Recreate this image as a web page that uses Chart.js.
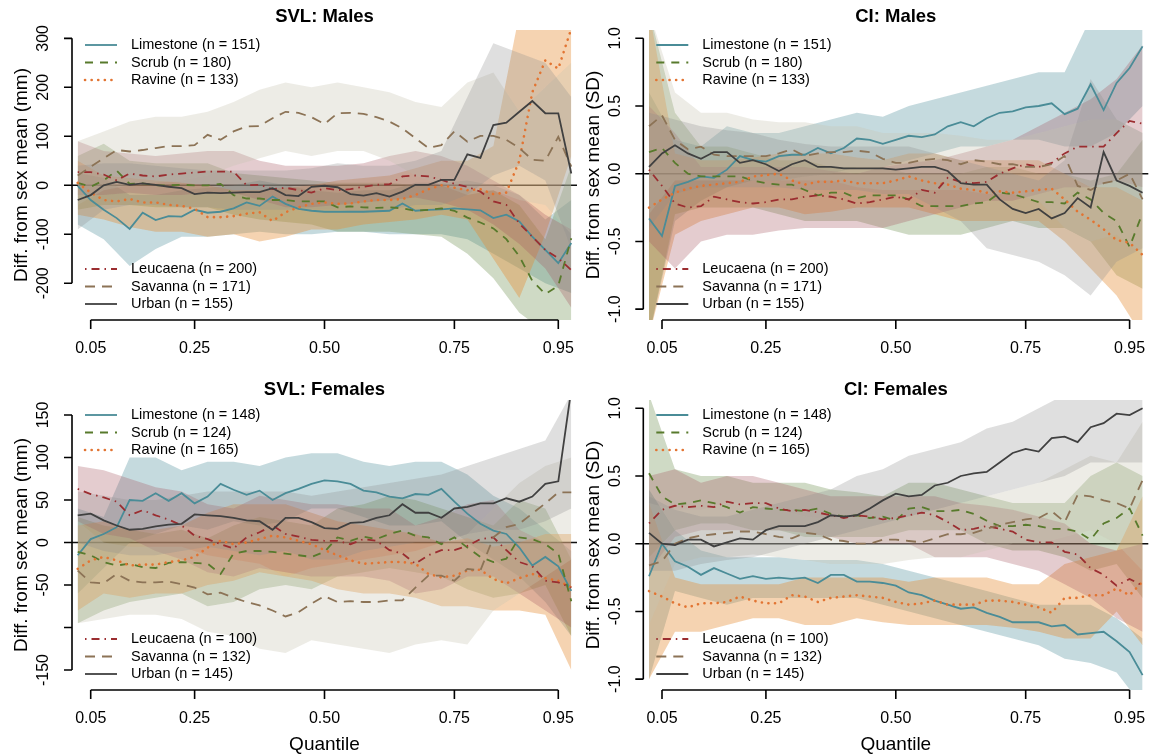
<!DOCTYPE html>
<html>
<head>
<meta charset="utf-8">
<script src="https://cdn.jsdelivr.net/npm/chart.js@4.4.1/dist/chart.umd.min.js"></script>
<style>
  body { margin: 0; background: #fff; }
  canvas { position: absolute; }
</style>
</head>
<body>
<canvas id="svlMales" width="580" height="375" style="left:0;top:0"></canvas>
<canvas id="ciMales" width="580" height="375" style="left:580px;top:0"></canvas>
<canvas id="svlFemales" width="580" height="380" style="left:0;top:375px"></canvas>
<canvas id="ciFemales" width="580" height="380" style="left:580px;top:375px"></canvas>
<script>
// quantiles of the mean lines and of the confidence bands
const quantiles = [0.025, 0.05, 0.075, 0.1, 0.125, 0.15, 0.175, 0.2, 0.225, 0.25, 0.275, 0.3, 0.325,
  0.35, 0.375, 0.4, 0.425, 0.45, 0.475, 0.5, 0.525, 0.55, 0.575, 0.6, 0.625, 0.65, 0.675, 0.7,
  0.725, 0.75, 0.775, 0.8, 0.825, 0.85, 0.875, 0.9, 0.925, 0.95, 0.975];
const bandQuantiles = [0.025, 0.075, 0.125, 0.175, 0.225, 0.275, 0.325, 0.375, 0.425, 0.475,
  0.525, 0.575, 0.625, 0.675, 0.725, 0.775, 0.825, 0.875, 0.925, 0.975];

const sites = ['Limestone', 'Scrub', 'Ravine', 'Leucaena', 'Savanna', 'Urban'];
const nMales = [151, 180, 133, 200, 171, 155];
const nFemales = [148, 124, 165, 100, 132, 145];

const xTicks = [0.05, 0.25, 0.5, 0.75, 0.95];
const xTickLabels = ['0.05', '0.25', '0.50', '0.75', '0.95'];

// rows: Limestone, Scrub, Ravine, Leucaena, Savanna, Urban
const svlMalesMean = [
  [-1, -30, -50, -67, -89, -56, -71, -63, -64, -50, -56, -54, -47, -35, -42, -23, -38, -48, -52, -54, -54, -54, -54, -53, -52, -37, -52, -50, -49, -47, -49, -51, -67, -60, -74, -105, -132, -159, -118],
  [5, -3, 10, 30, 3, 4, 0, 0, 1, 0, 0, 3, -20, -27, -27, -30, -30, -33, -33, -33, -45, -43, -45, -46, -45, -47, -52, -50, -47, -52, -66, -76, -88, -110, -145, -195, -222, -205, -108],
  [5, -15, -30, -33, -28, -35, -35, -40, -42, -48, -65, -65, -63, -58, -55, -73, -55, -45, -38, -35, -38, -37, -33, -30, -30, -28, -20, -8, 0, -5, -10, -8, -18, -15, 50, 190, 255, 238, 320],
  [27, 27, 22, 10, 24, 20, 18, 22, 24, 26, 28, 28, 28, 0, 1, -8, -5, -10, -15, -6, -10, -8, -3, 1, 2, 18, 20, 18, 11, 3, -3, -13, -33, -40, -78, -105, -132, -149, -173],
  [20, 38, 55, 72, 69, 72, 76, 80, 80, 82, 103, 93, 110, 120, 121, 137, 150, 148, 139, 125, 147, 148, 146, 139, 130, 116, 96, 76, 82, 110, 89, 101, 101, 93, 76, 52, 50, 99, 38],
  [-30, -20, 0, 7, 1, 4, 1, -3, -6, -18, -15, -16, -15, -14, -14, -6, -20, -22, -3, -1, -4, -18, -21, -16, -23, -13, 1, 1, 11, 11, 63, 56, 123, 128, 150, 172, 147, 147, 24]
];
const svlMalesLo = [
  [-80, -110, -165, -130, -105, -105, -100, -95, -100, -100, -95, -95, -100, -100, -100, -110, -140, -170, -200, -220],
  [-50, -40, -40, -45, -45, -45, -60, -70, -75, -80, -95, -95, -95, -100, -105, -140, -190, -260, -300, -280],
  [-60, -70, -85, -95, -95, -105, -100, -115, -105, -90, -90, -80, -75, -70, -60, -70, -150, -230, -100, 60],
  [-20, -20, -15, -20, -20, -15, -15, -30, -45, -45, -40, -35, -30, -25, -35, -50, -80, -120, -170, -250],
  [-40, -10, 0, 5, 10, 20, 40, 55, 70, 60, 70, 70, 50, 20, 0, -20, -10, -30, -40, -100],
  [-90, -50, -40, -40, -45, -45, -50, -50, -50, -50, -50, -55, -50, -40, -40, -20, 20, 40, 10, -130]
];
const svlMalesHi = [
  [25, 15, -20, -20, -10, -5, 0, 10, 0, -10, -15, -10, -10, 5, 5, 10, 0, -20, -70, -30],
  [60, 85, 50, 45, 45, 45, 25, 20, 15, 10, 5, 5, 5, 0, 0, -10, -10, -40, -110, 40],
  [50, 20, 15, 10, 5, 0, -10, -10, -5, 0, 10, 15, 20, 35, 50, 50, 80, 350, 450, 500],
  [90, 70, 65, 60, 65, 70, 70, 50, 40, 40, 40, 45, 60, 70, 60, 40, 10, -20, -60, -90],
  [90, 110, 130, 140, 140, 150, 170, 195, 210, 200, 210, 200, 190, 170, 160, 210, 230, 150, 200, 250],
  [40, 45, 45, 40, 35, 30, 30, 30, 30, 35, 45, 40, 40, 50, 70, 180, 290, 270, 250, 180]
];

const ciMalesMean = [
  [-0.33, -0.46, -0.09, -0.06, -0.02, -0.03, 0.03, 0.13, 0.10, 0.09, 0.13, 0.14, 0.14, 0.19, 0.15, 0.19, 0.26, 0.25, 0.22, 0.25, 0.28, 0.27, 0.29, 0.35, 0.38, 0.35, 0.41, 0.45, 0.46, 0.49, 0.50, 0.52, 0.44, 0.48, 0.66, 0.47, 0.67, 0.78, 0.94],
  [0.16, 0.19, 0.08, 0.00, -0.02, -0.02, -0.02, -0.02, -0.05, -0.07, -0.08, -0.08, -0.12, -0.16, -0.14, -0.14, -0.18, -0.16, -0.16, -0.16, -0.19, -0.24, -0.24, -0.24, -0.24, -0.22, -0.21, -0.14, -0.15, -0.18, -0.21, -0.21, -0.22, -0.14, -0.19, -0.29, -0.35, -0.54, -0.29],
  [-0.25, -0.19, -0.14, -0.11, -0.09, -0.08, -0.07, -0.06, -0.02, -0.01, 0.00, -0.05, -0.08, -0.06, -0.06, -0.05, -0.07, -0.07, -0.07, -0.05, -0.02, -0.05, -0.07, -0.08, -0.11, -0.12, -0.14, -0.13, -0.14, -0.13, -0.12, -0.11, -0.19, -0.28, -0.34, -0.41, -0.49, -0.51, -0.60],
  [0.03, -0.09, -0.22, -0.25, -0.24, -0.17, -0.19, -0.21, -0.22, -0.21, -0.19, -0.19, -0.17, -0.16, -0.17, -0.19, -0.22, -0.21, -0.19, -0.17, -0.19, -0.12, -0.14, -0.03, -0.06, -0.07, -0.06, 0.00, 0.04, 0.07, 0.05, 0.08, 0.15, 0.20, 0.20, 0.20, 0.30, 0.39, 0.37],
  [0.35, 0.43, 0.25, 0.18, 0.20, 0.14, 0.13, 0.13, 0.13, 0.13, 0.15, 0.18, 0.13, 0.15, 0.16, 0.16, 0.17, 0.16, 0.11, 0.08, 0.08, 0.10, 0.11, 0.10, 0.07, 0.10, 0.09, 0.07, 0.07, 0.05, 0.05, 0.07, 0.13, -0.09, -0.12, -0.07, -0.05, 0.00, -0.19],
  [0.05, 0.15, 0.21, 0.15, 0.11, 0.16, 0.16, 0.08, 0.10, 0.07, 0.02, 0.07, 0.10, 0.05, 0.05, 0.04, 0.04, 0.04, 0.04, 0.03, 0.04, 0.05, 0.05, 0.02, -0.07, -0.08, -0.08, -0.19, -0.26, -0.29, -0.26, -0.33, -0.29, -0.18, -0.25, 0.16, -0.05, -0.09, -0.14]
];
const ciMalesLo = [
  [-1.2, -0.35, -0.2, -0.1, -0.05, -0.05, -0.02, 0.0, 0.05, 0.05, 0.1, 0.15, 0.2, 0.2, 0.25, 0.25, 0.2, 0.2, 0.3, 0.5],
  [-1.2, -0.3, -0.25, -0.25, -0.25, -0.3, -0.35, -0.35, -0.35, -0.4, -0.45, -0.45, -0.45, -0.4, -0.35, -0.4, -0.4, -0.5, -0.75, -0.85],
  [-1.2, -0.45, -0.35, -0.3, -0.25, -0.25, -0.3, -0.28, -0.25, -0.25, -0.25, -0.3, -0.35, -0.35, -0.35, -0.35, -0.5, -0.7, -0.9, -1.2],
  [-0.5, -0.7, -0.5, -0.45, -0.45, -0.42, -0.4, -0.4, -0.4, -0.4, -0.35, -0.3, -0.25, -0.2, -0.2, -0.15, -0.1, -0.1, -0.05, -0.1],
  [-0.3, -0.05, -0.05, -0.05, -0.05, -0.05, -0.05, -0.05, -0.1, -0.12, -0.12, -0.12, -0.12, -0.15, -0.15, -0.2, -0.4, -0.5, -0.45, -0.6],
  [-0.4, -0.15, -0.1, -0.1, -0.1, -0.1, -0.12, -0.12, -0.12, -0.15, -0.15, -0.25, -0.35, -0.55, -0.6, -0.65, -0.75, -0.9, -0.65, -0.55]
];
const ciMalesHi = [
  [0.6, 0.25, 0.2, 0.35, 0.3, 0.3, 0.35, 0.4, 0.45, 0.42, 0.5, 0.55, 0.6, 0.65, 0.7, 0.75, 0.75, 1.15, 1.1, 1.15],
  [1.2, 0.45, 0.2, 0.2, 0.15, 0.1, 0.1, 0.05, 0.05, 0.05, 0.0, 0.0, 0.0, 0.05, 0.05, 0.0, 0.0, -0.05, 0.0, 0.25],
  [1.2, 0.15, 0.1, 0.1, 0.12, 0.15, 0.15, 0.15, 0.12, 0.1, 0.15, 0.15, 0.1, 0.1, 0.1, 0.1, 0.0, -0.1, -0.1, -0.2],
  [0.5, 0.3, 0.05, 0.05, 0.05, 0.05, 0.05, 0.02, 0.0, 0.05, 0.08, 0.1, 0.15, 0.2, 0.25, 0.35, 0.45, 0.55, 0.7, 0.95],
  [1.2, 0.6, 0.45, 0.45, 0.4, 0.38, 0.38, 0.35, 0.35, 0.3, 0.3, 0.3, 0.28, 0.25, 0.25, 0.3, 0.35, 0.4, 0.4, 0.3],
  [0.45, 0.4, 0.35, 0.32, 0.3, 0.25, 0.22, 0.2, 0.2, 0.2, 0.2, 0.15, 0.1, 0.05, 0.0, -0.05, 0.1, 0.7, 0.4, 0.3]
];

const svlFemalesMean = [
  [-15, 4, 10, 18, 50, 49, 58, 49, 58, 46, 54, 69, 62, 56, 61, 50, 58, 63, 69, 73, 72, 69, 61, 59, 54, 52, 57, 56, 63, 48, 34, 22, 14, 10, -6, -27, -17, -28, -57],
  [-11, -15, -23, -27, -25, -29, -30, -24, -23, -24, -25, -37, -13, -10, -10, -11, -13, -15, -17, -11, 6, 2, 7, 4, 10, 14, 8, 6, -2, 6, -6, -17, -23, -19, 6, 4, -2, -13, -69],
  [-31, -21, -17, -21, -27, -26, -26, -23, -21, -17, -6, 2, -2, 0, 4, 8, 6, 2, -2, -9, -15, -21, -25, -24, -23, -23, -25, -37, -41, -39, -33, -32, -43, -48, -42, -37, -42, -45, -53],
  [63, 57, 53, 48, 32, 38, 32, 27, 20, 8, 4, -2, -7, 6, 12, 20, 10, 7, 3, 2, 2, -2, 4, 2, -9, -13, -25, -15, -9, -9, -4, 4, 6, -9, -23, -28, -45, -47, -53],
  [-33, -47, -48, -37, -45, -47, -47, -46, -49, -53, -61, -59, -65, -70, -74, -80, -87, -82, -72, -63, -70, -69, -70, -70, -68, -68, -53, -39, -39, -45, -31, -33, 6, 18, 22, 34, 46, 59, 59],
  [32, 34, 26, 20, 15, 16, 19, 21, 22, 33, 32, 31, 29, 26, 25, 15, 29, 29, 24, 17, 16, 23, 24, 29, 32, 45, 35, 35, 29, 40, 42, 46, 46, 52, 48, 54, 69, 72, 180]
];
const svlFemalesLo = [
  [-60, -30, 0, 10, 20, 15, 25, 20, 25, 40, 40, 30, 20, 20, 25, 0, -20, -40, -70, -110],
  [-95, -80, -70, -65, -60, -75, -70, -55, -50, -55, -40, -35, -30, -35, -40, -55, -65, -60, -50, -110],
  [-80, -60, -65, -60, -60, -50, -45, -35, -40, -45, -55, -60, -60, -65, -75, -75, -80, -80, -85, -150],
  [25, 10, 5, -10, -20, -35, -40, -30, -35, -40, -40, -40, -45, -60, -55, -40, -40, -60, -80, -100],
  [-95, -90, -85, -85, -90, -105, -110, -125, -130, -115, -120, -125, -130, -120, -115, -120, -80, -60, -40, -20],
  [0, -10, -15, -15, -10, -5, -10, -15, -10, -20, -20, -10, -5, 0, 0, 10, 15, 15, 25, 40]
];
const svlFemalesHi = [
  [40, 30, 100, 100, 85, 95, 95, 90, 100, 105, 105, 95, 90, 95, 95, 80, 55, 40, 15, -10],
  [30, 20, 15, 10, 15, 5, 20, 30, 25, 20, 40, 45, 55, 50, 40, 30, 20, 50, 40, -20],
  [20, 25, 15, 15, 20, 35, 45, 45, 45, 35, 25, 20, 15, 10, 0, 5, -5, 0, 10, 10],
  [90, 85, 75, 65, 60, 45, 40, 55, 50, 45, 45, 40, 40, 20, 30, 45, 50, 15, 0, 0],
  [25, 0, -5, -5, -5, -15, -20, -25, -40, -30, -25, -20, -15, -10, 0, 10, 40, 70, 90, 100],
  [60, 55, 50, 50, 55, 60, 60, 60, 60, 55, 60, 65, 70, 75, 80, 90, 100, 110, 120, 175]
];

const ciFemalesMean = [
  [-0.24, 0.00, -0.13, -0.17, -0.23, -0.18, -0.22, -0.26, -0.24, -0.26, -0.25, -0.26, -0.25, -0.29, -0.23, -0.23, -0.28, -0.28, -0.29, -0.31, -0.36, -0.38, -0.42, -0.45, -0.48, -0.47, -0.51, -0.54, -0.58, -0.58, -0.58, -0.61, -0.60, -0.67, -0.66, -0.65, -0.72, -0.80, -0.97],
  [0.52, 0.35, 0.29, 0.30, 0.32, 0.30, 0.27, 0.23, 0.27, 0.26, 0.25, 0.25, 0.24, 0.26, 0.22, 0.20, 0.21, 0.19, 0.20, 0.17, 0.26, 0.27, 0.24, 0.24, 0.25, 0.22, 0.17, 0.13, 0.13, 0.14, 0.13, 0.11, 0.11, 0.09, 0.03, 0.15, 0.19, 0.26, 0.06],
  [-0.35, -0.39, -0.44, -0.47, -0.44, -0.44, -0.43, -0.39, -0.42, -0.44, -0.44, -0.38, -0.39, -0.43, -0.40, -0.39, -0.38, -0.39, -0.40, -0.43, -0.45, -0.44, -0.42, -0.45, -0.45, -0.45, -0.42, -0.42, -0.43, -0.45, -0.47, -0.51, -0.40, -0.40, -0.38, -0.38, -0.33, -0.38, -0.28],
  [0.15, 0.25, 0.28, 0.27, 0.28, 0.27, 0.31, 0.29, 0.30, 0.30, 0.26, 0.24, 0.25, 0.23, 0.21, 0.19, 0.21, 0.20, 0.18, 0.19, 0.21, 0.23, 0.21, 0.16, 0.10, 0.11, 0.13, 0.11, 0.09, 0.03, 0.01, 0.01, -0.06, -0.08, -0.18, -0.23, -0.31, -0.26, -0.31],
  [-0.16, -0.13, 0.00, 0.04, 0.06, 0.07, 0.08, 0.09, 0.09, 0.07, 0.05, 0.04, 0.08, 0.07, 0.03, 0.02, 0.00, 0.00, 0.03, 0.03, 0.02, 0.01, 0.04, 0.07, 0.07, 0.08, 0.11, 0.14, 0.16, 0.18, 0.19, 0.24, 0.16, 0.36, 0.35, 0.32, 0.30, 0.26, 0.47],
  [0.08, 0.00, -0.01, 0.03, 0.03, -0.02, 0.01, 0.04, 0.03, 0.10, 0.13, 0.13, 0.13, 0.16, 0.21, 0.20, 0.21, 0.26, 0.32, 0.37, 0.35, 0.36, 0.43, 0.45, 0.50, 0.52, 0.53, 0.60, 0.67, 0.70, 0.68, 0.78, 0.79, 0.75, 0.86, 0.89, 0.96, 0.95, 1.00]
];
const ciFemalesLo = [
  [-1.0, -0.35, -0.4, -0.45, -0.4, -0.4, -0.4, -0.4, -0.4, -0.45, -0.5, -0.55, -0.6, -0.65, -0.7, -0.75, -0.85, -0.88, -0.95, -1.2],
  [-0.1, 0.1, 0.15, 0.15, 0.1, 0.1, 0.05, 0.05, 0.05, 0.05, 0.1, 0.1, 0.1, 0.0, -0.05, -0.05, -0.1, -0.2, -0.15, -0.4],
  [-1.0, -0.65, -0.65, -0.6, -0.55, -0.55, -0.6, -0.6, -0.55, -0.58, -0.6, -0.6, -0.6, -0.6, -0.62, -0.65, -0.7, -0.7, -0.5, -0.75],
  [-0.2, 0.05, 0.1, 0.1, 0.1, 0.1, 0.08, 0.05, 0.0, 0.0, 0.0, -0.1, -0.1, -0.1, -0.15, -0.2, -0.3, -0.4, -0.55, -0.65],
  [-0.6, -0.15, -0.1, -0.1, -0.08, -0.1, -0.12, -0.15, -0.15, -0.15, -0.12, -0.1, -0.1, -0.05, 0.0, 0.0, 0.05, 0.1, 0.0, -0.2],
  [-0.2, -0.2, -0.15, -0.12, -0.1, -0.05, 0.0, 0.05, 0.1, 0.15, 0.2, 0.25, 0.3, 0.35, 0.4, 0.45, 0.5, 0.6, 0.6, 0.6]
];
const ciFemalesHi = [
  [0.4, 0.1, -0.05, -0.1, -0.1, -0.1, -0.12, -0.12, -0.12, -0.15, -0.2, -0.25, -0.3, -0.35, -0.4, -0.45, -0.45, -0.45, -0.55, -0.7],
  [1.1, 0.55, 0.5, 0.5, 0.45, 0.45, 0.45, 0.4, 0.38, 0.35, 0.45, 0.45, 0.4, 0.35, 0.3, 0.3, 0.3, 0.5, 0.6, 0.5],
  [0.3, -0.25, -0.3, -0.3, -0.3, -0.3, -0.25, -0.25, -0.25, -0.25, -0.28, -0.25, -0.25, -0.25, -0.3, -0.3, -0.15, -0.1, -0.05, 0.35],
  [0.5, 0.55, 0.45, 0.5, 0.5, 0.45, 0.4, 0.35, 0.35, 0.35, 0.35, 0.35, 0.3, 0.28, 0.25, 0.2, 0.15, 0.0, -0.05, 0.0],
  [0.3, 0.25, 0.25, 0.3, 0.3, 0.25, 0.2, 0.18, 0.2, 0.2, 0.25, 0.25, 0.3, 0.35, 0.4, 0.45, 0.55, 0.65, 0.6, 0.9],
  [0.35, 0.25, 0.2, 0.2, 0.25, 0.3, 0.35, 0.4, 0.5, 0.55, 0.65, 0.7, 0.75, 0.85, 0.9, 1.0, 1.1, 1.15, 1.2, 1.2]
];

// styles per site
const lineColors = ['#4a8c97', '#587a2c', '#e27432', '#9b2d30', '#8c7356', '#404040'];
const bandColors = ['rgba(74,140,151,0.32)', 'rgba(105,140,75,0.32)', 'rgba(230,140,50,0.38)',
  'rgba(165,85,95,0.3)', 'rgba(200,196,176,0.32)', 'rgba(140,140,140,0.28)'];
const lineWidths = [1.8, 1.8, 2.6, 1.8, 1.8, 1.8];
const dashes = [[], [8, 7], [0.1, 6.5], [1.5, 5, 8, 5], [10, 7], []];
const caps = ['butt', 'butt', 'round', 'butt', 'butt', 'butt'];

const FONT = '"Liberation Sans", Arial, Helvetica, sans-serif';

function rStyle(cfg) {
  return {
    id: 'rStyle',
    // zero reference line, under the bands
    beforeDraw(chart) {
      const { ctx, chartArea: a, scales: { y } } = chart;
      const y0 = y.getPixelForValue(0);
      ctx.save();
      ctx.strokeStyle = '#111';
      ctx.lineWidth = 1.6;
      ctx.beginPath();
      ctx.moveTo(a.left, y0);
      ctx.lineTo(a.right, y0);
      ctx.stroke();
      ctx.restore();
    },
    afterDraw(chart) {
      const { ctx, chartArea: a, scales: { x, y } } = chart;
      ctx.save();
      ctx.strokeStyle = '#000';
      ctx.fillStyle = '#000';
      ctx.lineWidth = 1.6;

      // y axis
      const yt = cfg.yTicks.map(v => y.getPixelForValue(v));
      ctx.beginPath();
      ctx.moveTo(a.left, Math.min(...yt));
      ctx.lineTo(a.left, Math.max(...yt));
      yt.forEach(py => { ctx.moveTo(a.left - 8, py); ctx.lineTo(a.left, py); });
      ctx.stroke();
      ctx.font = '16px ' + FONT;
      ctx.textAlign = 'center';
      ctx.textBaseline = 'middle';
      yt.forEach((py, i) => {
        if (!cfg.yLabels[i]) return;
        ctx.save();
        ctx.translate(a.left - 28, py);
        ctx.rotate(-Math.PI / 2);
        ctx.fillText(cfg.yLabels[i], 0, 0);
        ctx.restore();
      });

      // x axis
      const xt = xTicks.map(v => x.getPixelForValue(v));
      ctx.beginPath();
      ctx.moveTo(xt[0], a.bottom);
      ctx.lineTo(xt[xt.length - 1], a.bottom);
      xt.forEach(px => { ctx.moveTo(px, a.bottom); ctx.lineTo(px, a.bottom + 9); });
      ctx.stroke();
      xt.forEach((px, i) => ctx.fillText(xTickLabels[i], px, a.bottom + 29));

      // axis titles and panel title
      const cx = (a.left + a.right) / 2;
      ctx.font = '19px ' + FONT;
      ctx.save();
      ctx.translate(a.left - 50, (a.top + a.bottom) / 2);
      ctx.rotate(-Math.PI / 2);
      ctx.fillText(cfg.yTitle, 0, 0);
      ctx.restore();
      if (cfg.xTitle) ctx.fillText(cfg.xTitle, cx, a.bottom + 55);
      ctx.font = 'bold 18.5px ' + FONT;
      ctx.fillText(cfg.title, cx, cfg.titleY);

      // legend, split in two groups
      ctx.font = '14.5px ' + FONT;
      ctx.textAlign = 'left';
      const rows = [a.top + 15, a.top + 32.5, a.top + 50, a.bottom - 51, a.bottom - 33.5, a.bottom - 16];
      sites.forEach((s, i) => {
        const ry = rows[i];
        ctx.save();
        ctx.strokeStyle = lineColors[i];
        ctx.lineWidth = lineWidths[i];
        ctx.setLineDash(dashes[i]);
        ctx.lineCap = caps[i];
        ctx.beginPath();
        ctx.moveTo(a.left + 13, ry);
        ctx.lineTo(a.left + 45, ry);
        ctx.stroke();
        ctx.restore();
        ctx.fillText(s + ' (n = ' + cfg.n[i] + ')', a.left + 59, ry);
      });
      ctx.restore();
    }
  };
}

function makePanel(id, cfg) {
  const datasets = [];
  let seq = 0;
  sites.forEach((site, i) => {
    datasets.push({
      data: bandQuantiles.map((q, k) => ({ x: q, y: cfg.lo[i][k] })),
      borderWidth: 0, pointRadius: 0, fill: false, order: 100 - seq++
    });
    datasets.push({
      data: bandQuantiles.map((q, k) => ({ x: q, y: cfg.hi[i][k] })),
      borderWidth: 0, pointRadius: 0, fill: '-1', backgroundColor: bandColors[i], order: 100 - seq++
    });
    datasets.push({
      label: site,
      data: quantiles.map((q, k) => ({ x: q, y: cfg.mean[i][k] })),
      borderColor: lineColors[i], borderWidth: lineWidths[i], borderDash: dashes[i], borderCapStyle: caps[i],
      pointRadius: 0, fill: false, order: 100 - seq++
    });
  });

  new Chart(document.getElementById(id), {
    type: 'line',
    data: { datasets },
    options: {
      responsive: false,
      animation: false,
      events: [],
      devicePixelRatio: 1,
      layout: { padding: cfg.padding },
      elements: { line: { tension: 0 } },
      scales: {
        x: { type: 'linear', min: 0.014, max: 0.986, display: false },
        y: { type: 'linear', min: cfg.yMin, max: cfg.yMax, display: false }
      },
      plugins: {
        legend: { display: false },
        tooltip: { enabled: false },
        filler: { drawTime: 'beforeDatasetsDraw', propagate: false }
      }
    },
    plugins: [rStyle(cfg)]
  });
}

const ciTicks = [1, 0.5, 0, -0.5, -1];
const ciLabels = ['1.0', '0.5', '0.0', '-0.5', '-1.0'];

makePanel('svlMales', {
  title: 'SVL: Males', titleY: 16.5, yTitle: 'Diff. from sex mean (mm)', n: nMales,
  mean: svlMalesMean, lo: svlMalesLo, hi: svlMalesHi,
  yMin: -275, yMax: 317, yTicks: [300, 200, 100, 0, -100, -200],
  yLabels: ['300', '200', '100', '0', '-100', '-200'],
  padding: { left: 72, right: 3, top: 30, bottom: 55 }
});
makePanel('ciMales', {
  title: 'CI: Males', titleY: 16.5, yTitle: 'Diff. from sex mean (SD)', n: nMales,
  mean: ciMalesMean, lo: ciMalesLo, hi: ciMalesHi,
  yMin: -1.08, yMax: 1.061, yTicks: ciTicks, yLabels: ciLabels,
  padding: { left: 63.3, right: 11.7, top: 30, bottom: 55 }
});
makePanel('svlFemales', {
  title: 'SVL: Females', titleY: 15, yTitle: 'Diff. from sex mean (mm)', xTitle: 'Quantile', n: nFemales,
  mean: svlFemalesMean, lo: svlFemalesLo, hi: svlFemalesHi,
  yMin: -173.5, yMax: 167.6, yTicks: [150, 100, 50, 0, -50, -100, -150],
  yLabels: ['150', '100', '50', '0', '-50', '', '-150'],
  padding: { left: 72, right: 3, top: 25, bottom: 65 }
});
makePanel('ciFemales', {
  title: 'CI: Females', titleY: 15, yTitle: 'Diff. from sex mean (SD)', xTitle: 'Quantile', n: nFemales,
  mean: ciFemalesMean, lo: ciFemalesLo, hi: ciFemalesHi,
  yMin: -1.08, yMax: 1.061, yTicks: ciTicks, yLabels: ciLabels,
  padding: { left: 63.3, right: 11.7, top: 25, bottom: 65 }
});
</script>
</body>
</html>
